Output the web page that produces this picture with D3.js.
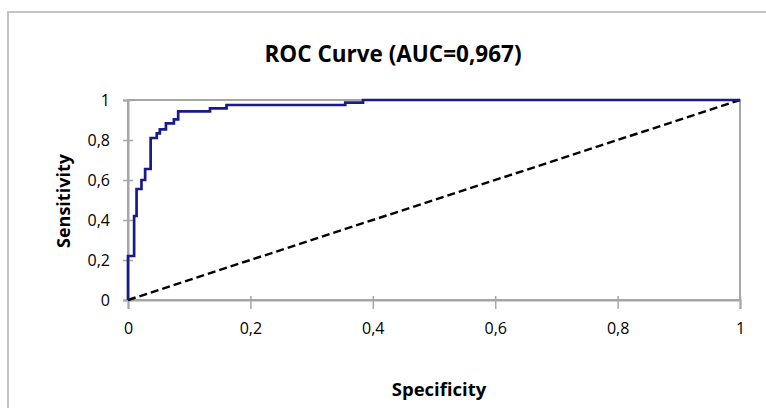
<!DOCTYPE html>
<html><head><meta charset="utf-8">
<script src="https://cdn.jsdelivr.net/npm/d3@7"></script>
<style>body{margin:0;background:#fff;}svg{display:block;}</style>
</head><body>
<svg id="c" width="766" height="408"></svg>
<script>
const title = "ROC Curve (AUC=0,967)";
const xLabel = "Specificity";
const yLabel = "Sensitivity";
const xTicks = [0, 0.2, 0.4, 0.6, 0.8, 1];
const yTicks = [0, 0.2, 0.4, 0.6, 0.8, 1];
const fpr = [0, 0, 0.010, 0.014, 0.022, 0.028, 0.037, 0.047, 0.052, 0.062, 0.075, 0.082, 0.134, 0.161, 0.355, 0.384, 1];
const tpr = [0, 0.22, 0.42, 0.555, 0.60, 0.655, 0.81, 0.833, 0.853, 0.883, 0.903, 0.943, 0.958, 0.975, 0.987, 1, 1];
const diagX = [0, 1];
const diagY = [0, 1];

const svg = d3.select("#c");
const font = "'Open Sans', Lato, sans-serif";
const m = {l:128, r:740, t:100, b:300};
const x = d3.scaleLinear().domain([0,1]).range([m.l, m.r]);
const y = d3.scaleLinear().domain([0,1]).range([m.b, m.t]);
const fmt = d => String(d).replace(".", ",");

// outer chart border
svg.append("rect").attr("x",8).attr("y",12).attr("width",770).attr("height",410)
  .attr("fill","#fff").attr("stroke","#c4c4c4").attr("stroke-width",2);

// plot frame
svg.append("rect").attr("x",m.l).attr("y",m.t).attr("width",m.r-m.l).attr("height",m.b-m.t)
  .attr("fill","#fff").attr("stroke","#a6a6a6").attr("stroke-width",2);

// axes
const xa = svg.append("g").attr("transform",`translate(0,${m.b})`)
  .call(d3.axisBottom(x).tickValues(xTicks).tickFormat(fmt).tickSize(9).tickPadding(14));
const ya = svg.append("g").attr("transform",`translate(${m.l},0)`)
  .call(d3.axisLeft(y).tickValues(yTicks).tickFormat(fmt).tickSize(5).tickPadding(13));
[xa, ya].forEach(g => {
  g.select(".domain").attr("stroke","#a6a6a6").attr("stroke-width",2);
  g.selectAll(".tick line").attr("stroke","#a6a6a6").attr("stroke-width",1.5);
  g.selectAll(".tick text").attr("font-family",font).attr("font-size",16).attr("fill","#000");
});
xa.selectAll(".tick line").attr("y1",-4);
ya.selectAll(".tick line").attr("x2",5).attr("x1",-5);

// diagonal
svg.append("path")
  .attr("d", d3.line().x((d,i)=>x(diagX[i])).y((d,i)=>y(diagY[i]))(diagX))
  .attr("fill","none").attr("stroke","#000").attr("stroke-width",2.4).attr("stroke-dasharray","8,4");

// ROC curve
svg.append("path")
  .attr("d", d3.line().curve(d3.curveStepAfter).x((d,i)=>x(fpr[i])).y((d,i)=>y(tpr[i]))(fpr))
  .attr("fill","none").attr("stroke","#1a1a8c").attr("stroke-width",2.7);

// title & labels
svg.append("text").attr("x",393).attr("y",62).attr("text-anchor","middle")
  .attr("font-family",font).attr("font-weight","bold").attr("font-size",22.5).attr("fill","#000").text(title);
svg.append("text").attr("x",439).attr("y",396).attr("text-anchor","middle")
  .attr("font-family",font).attr("font-weight","bold").attr("font-size",18.5).attr("fill","#000").text(xLabel);
svg.append("text").attr("transform","translate(70,201) rotate(-90)").attr("text-anchor","middle")
  .attr("font-family",font).attr("font-weight","bold").attr("font-size",18).attr("fill","#000").text(yLabel);
</script>
</body></html>
